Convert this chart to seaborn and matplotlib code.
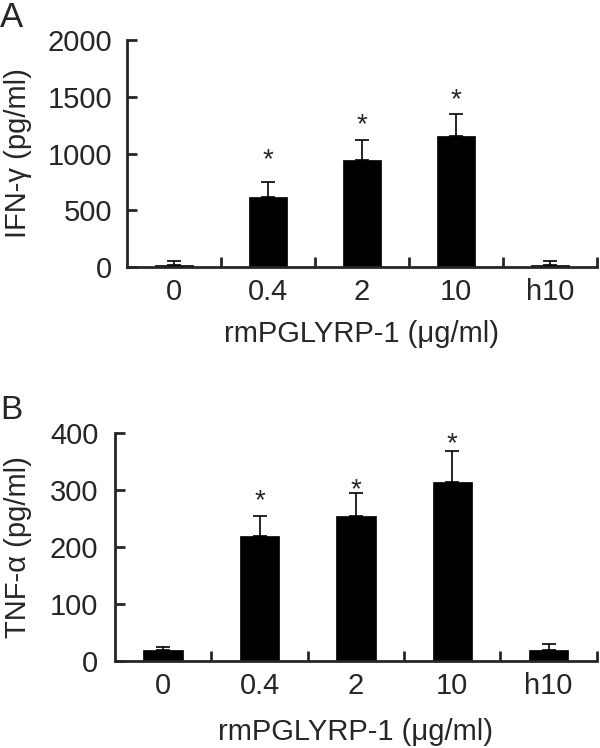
import numpy as np
import pandas as pd
import matplotlib
matplotlib.use("Agg")
import matplotlib.pyplot as plt
import seaborn as sns

# data
doses = ["0", "0.4", "2", "10", "h10"]
ifn_mean = [20, 620, 940, 1155, 20]
ifn_err = [35, 130, 175, 195, 35]
ifn_star = [None, 1020, 1330, 1545, None]
tnf_mean = [20, 219, 255, 314, 20]
tnf_err = [5, 35, 39, 54, 9]
tnf_star = [None, 296, 316, 396, None]

sns.set_style("ticks")
plt.rcParams["font.family"] = ["Liberation Sans", "DejaVu Sans"]
plt.rcParams["font.size"] = 21

fig = plt.figure(figsize=(6, 7.48), dpi=100)
axA = fig.add_axes([0.2117, 0.643, 0.783, 0.3035])
axB = fig.add_axes([0.1917, 0.1163, 0.803, 0.305])


def panel(ax, mean, err, star, ylim, yticks, ylabel, ypad, xlpad):
    df = pd.DataFrame({"dose": doses, "value": mean})
    sns.barplot(data=df, x="dose", y="value", color="black", edgecolor="black",
                width=0.41, errorbar=None, saturation=1, linewidth=0.5, ax=ax)
    pos = np.arange(len(doses))
    ax.errorbar(pos, mean, yerr=[np.zeros(len(err)), err], fmt="none",
                ecolor="black", elinewidth=1.2, capsize=4.7, capthick=1.2)
    for x, s in zip(pos, star):
        if s is not None:
            ax.annotate("*", xy=(x, s), xytext=(0, -11.5), textcoords="offset points",
                        ha="center", va="baseline", fontsize=20)
    ax.set_xlim(-0.5, len(doses) - 0.5)
    ax.set_ylim(*ylim)
    ax.set_yticks(yticks)
    ax.set_xticks(pos + 0.5, minor=True)
    ax.tick_params(axis="x", which="major", length=0, pad=8, labelsize=21)
    ax.tick_params(axis="x", which="minor", direction="in", length=7, width=2)
    ax.tick_params(axis="y", direction="in", length=7, width=2, pad=ypad, labelsize=21)
    sns.despine(ax=ax)
    for sp in ("left", "bottom"):
        ax.spines[sp].set_linewidth(2)
    ax.set_ylabel(ylabel, fontsize=21)
    ax.set_xlabel("rmPGLYRP-1 (\u03bcg/ml)", fontsize=21, labelpad=xlpad)


panel(axA, ifn_mean, ifn_err, ifn_star, (0, 2000), [0, 500, 1000, 1500, 2000],
      "IFN-\u03b3 (pg/ml)", 10.5, 10)
panel(axB, tnf_mean, tnf_err, tnf_star, (0, 400), [0, 100, 200, 300, 400],
      "TNF-\u03b1 (pg/ml)", 12, 13)

axA.yaxis.set_label_coords(-0.202, 0.5)
axB.yaxis.set_label_coords(-0.172, 0.5)

fig.text(0.0, 0.998, "A", fontsize=25, va="top", ha="left")
fig.text(0.0, 0.472, "B", fontsize=24, va="top", ha="left")

fig.savefig("out.png", dpi=100)
